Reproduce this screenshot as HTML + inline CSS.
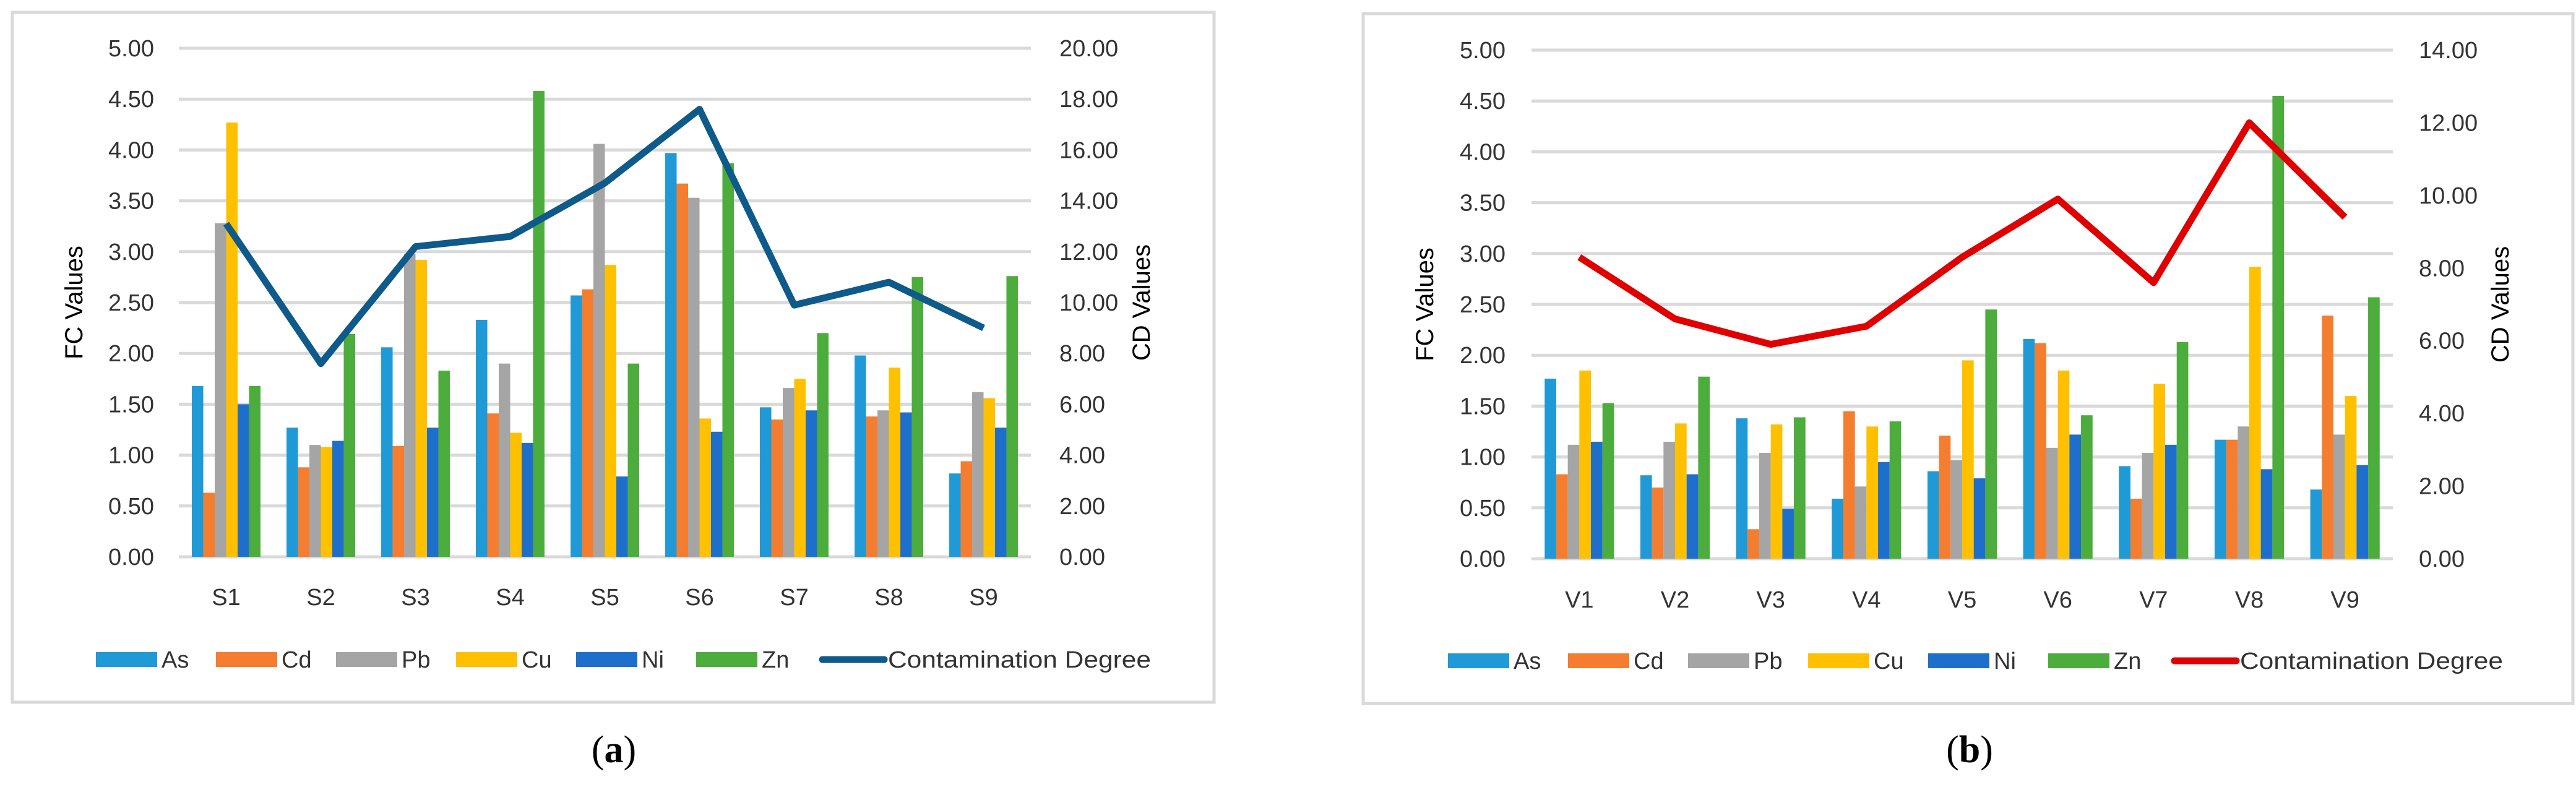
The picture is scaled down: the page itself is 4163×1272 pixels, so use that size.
<!DOCTYPE html>
<html><head><meta charset="utf-8"><style>
html,body{margin:0;padding:0;background:#fff;}
svg{display:block;font-family:"Liberation Sans",sans-serif;}
</style></head><body>
<svg id="root" width="4163" height="1272" viewBox="0 0 4163 1272" xmlns="http://www.w3.org/2000/svg"></svg>
<script>
const metals = ["As","Cd","Pb","Cu","Ni","Zn"];
const colors = ["#1f9ad6","#f47d30","#a5a5a5","#ffc000","#1e6fcc","#4cac3c"];
const catsA = ["S1","S2","S3","S4","S5","S6","S7","S8","S9"];
const asA = [1.68,1.27,2.06,2.33,2.57,3.97,1.47,1.98,0.82];
const cdA = [0.63,0.88,1.09,1.41,2.63,3.67,1.35,1.38,0.94];
const pbA = [3.28,1.10,2.98,1.90,4.06,3.53,1.66,1.44,1.62];
const cuA = [4.27,1.08,2.92,1.22,2.87,1.36,1.75,1.86,1.56];
const niA = [1.50,1.14,1.27,1.12,0.79,1.23,1.44,1.42,1.27];
const znA = [1.68,2.19,1.83,4.58,1.90,3.87,2.20,2.75,2.76];
const degA = [13.1,7.6,12.2,12.6,14.7,17.6,9.9,10.8,9.0];
const leftTicks = ["0.00","0.50","1.00","1.50","2.00","2.50","3.00","3.50","4.00","4.50","5.00"];
const rightTicksA = ["0.00","2.00","4.00","6.00","8.00","10.00","12.00","14.00","16.00","18.00","20.00"];
const catsB = ["V1","V2","V3","V4","V5","V6","V7","V8","V9"];
const asB = [1.77,0.82,1.38,0.59,0.86,2.16,0.91,1.17,0.68];
const cdB = [0.83,0.70,0.29,1.45,1.21,2.12,0.59,1.17,2.39];
const pbB = [1.12,1.15,1.04,0.71,0.97,1.09,1.04,1.30,1.22];
const cuB = [1.85,1.33,1.32,1.30,1.95,1.85,1.72,2.87,1.60];
const niB = [1.15,0.83,0.49,0.95,0.79,1.22,1.12,0.88,0.92];
const znB = [1.53,1.79,1.39,1.35,2.45,1.41,2.13,4.55,2.57];
const degB = [8.3,6.6,5.9,6.4,8.3,9.9,7.6,12.0,9.4];
const rightTicksB = ["0.00","2.00","4.00","6.00","8.00","10.00","12.00","14.00"];

const NS="http://www.w3.org/2000/svg";
const root=document.getElementById('root');
function mk(tag,attrs,parent){const e=document.createElementNS(NS,tag);for(const k in attrs)e.setAttribute(k,attrs[k]);(parent||root).appendChild(e);return e;}

function chart(o){
  const g=mk('g',{});
  
  
  const border=mk('rect',{x:o.bx,y:o.by,width:o.bw,height:o.bh,fill:'#fff',stroke:'#d9d9d9','stroke-width':5},g);
  
  
  const y=v=>o.y0-(v/o.lmax)*(o.y0-o.y1);
  const yr=v=>o.y0-(v/o.rmax)*(o.y0-o.y1);
  const cw=(o.x1-o.x0)/o.cats.length;
  const xc=i=>o.x0+cw*(i+0.5);
  // grid + left ticks
  o.lticks.forEach((t,i)=>{
    const v=parseFloat(t);
    const gl=mk('line',{x1:o.x0,x2:o.x1,y1:y(v),y2:y(v),stroke:'#d9d9d9','stroke-width':5},g);
    
    
    const tx=mk('text',{x:o.lx,y:y(v)+13,'text-anchor':'end','font-size':38,fill:'#333'},g);
    tx.textContent=t;
    
    
  });
  o.rticks.forEach(t=>{
    const v=parseFloat(t);
    const tx=mk('text',{x:o.rx,y:yr(v)+13,'text-anchor':'start','font-size':38,fill:'#333'},g);
    tx.textContent=t;
    
    
  });
  // bars
  const bw=cw*0.725/6;
  o.series.forEach((s,si)=>{
    s.forEach((v,i)=>{
      const bx=xc(i)-bw*3+bw*si;
      const r=mk('rect',{x:bx,y:y(v),width:bw,height:o.y0-y(v),fill:colors[si]},g);
      
      
    });
  });
  // line
  const pts=o.deg.map((v,i)=>xc(i)+','+yr(v)).join(' ');
  const pl=mk('polyline',{points:pts,fill:'none',stroke:o.lc,'stroke-width':11,'stroke-linejoin':'round'},g);
  
  
  // cat labels
  o.cats.forEach((c,i)=>{
    const tx=mk('text',{x:xc(i),y:o.xly,'text-anchor':'middle','font-size':38,fill:'#333'},g);
    tx.textContent=c;
    
    
  });
  // axis titles
  const lt=mk('text',{x:o.ltx,y:(o.y0+o.y1)/2,'text-anchor':'middle','font-size':40,fill:'#000',transform:`rotate(-90 ${o.ltx} ${(o.y0+o.y1)/2})`},g);
  lt.textContent='FC Values';
  
  
  const rt=mk('text',{x:o.rtx,y:(o.y0+o.y1)/2,'text-anchor':'middle','font-size':40,fill:'#000',transform:`rotate(-90 ${o.rtx} ${(o.y0+o.y1)/2})`},g);
  rt.textContent='CD Values';
  
  
  // legend
  let lx=o.legx;
  metals.forEach((m,i)=>{
    const sw=mk('rect',{x:lx,y:o.legy-12,width:99,height:24,fill:colors[i]},g);
    
    
    const tx=mk('text',{x:lx+106,y:o.legy+13,'font-size':38,fill:'#333'},g);
    tx.textContent=m;
    
    
    lx+=194;
  });
  lx+=10;
  const ll=mk('line',{x1:lx,x2:lx+100,y1:o.legy,y2:o.legy,stroke:o.lc,'stroke-width':11,'stroke-linecap':'round'},g);
  
  
  const lt2=mk('text',{x:lx+106,y:o.legy+13,'font-size':38,fill:'#333',textLength:425,lengthAdjust:'spacingAndGlyphs'},g);
  lt2.textContent='Contamination Degree';
  
  
  const cap=mk('text',{x:o.capx,y:1232,'text-anchor':'middle','font-size':62,fill:'#000','font-family':'Liberation Serif, serif'},g);
  cap.innerHTML='(<tspan font-weight="bold">'+o.cap+'</tspan>)';
  
  
}

chart({name:'chart-a',bx:20,by:20,bw:1942,bh:1115,x0:289,x1:1666,y0:900,y1:78,lmax:5,rmax:20,
  cats:catsA,series:[asA,cdA,pbA,cuA,niA,znA],deg:degA,lticks:leftTicks,rticks:rightTicksA,
  lx:249,rx:1712,xly:978,ltx:133,rtx:1858,legx:155,legy:1066,lc:'#0e5a8a',capx:992,cap:'a'});
chart({name:'chart-b',bx:2203,by:22,bw:1955,bh:1115,x0:2475,x1:3867,y0:903,y1:81,lmax:5,rmax:14,
  cats:catsB,series:[asB,cdB,pbB,cuB,niB,znB],deg:degB,lticks:leftTicks,rticks:rightTicksB,
  lx:2433,rx:3909,xly:982,ltx:2316,rtx:4054,legx:2340,legy:1068,lc:'#e00000',capx:3183,cap:'b'});
</script>
</body></html>
